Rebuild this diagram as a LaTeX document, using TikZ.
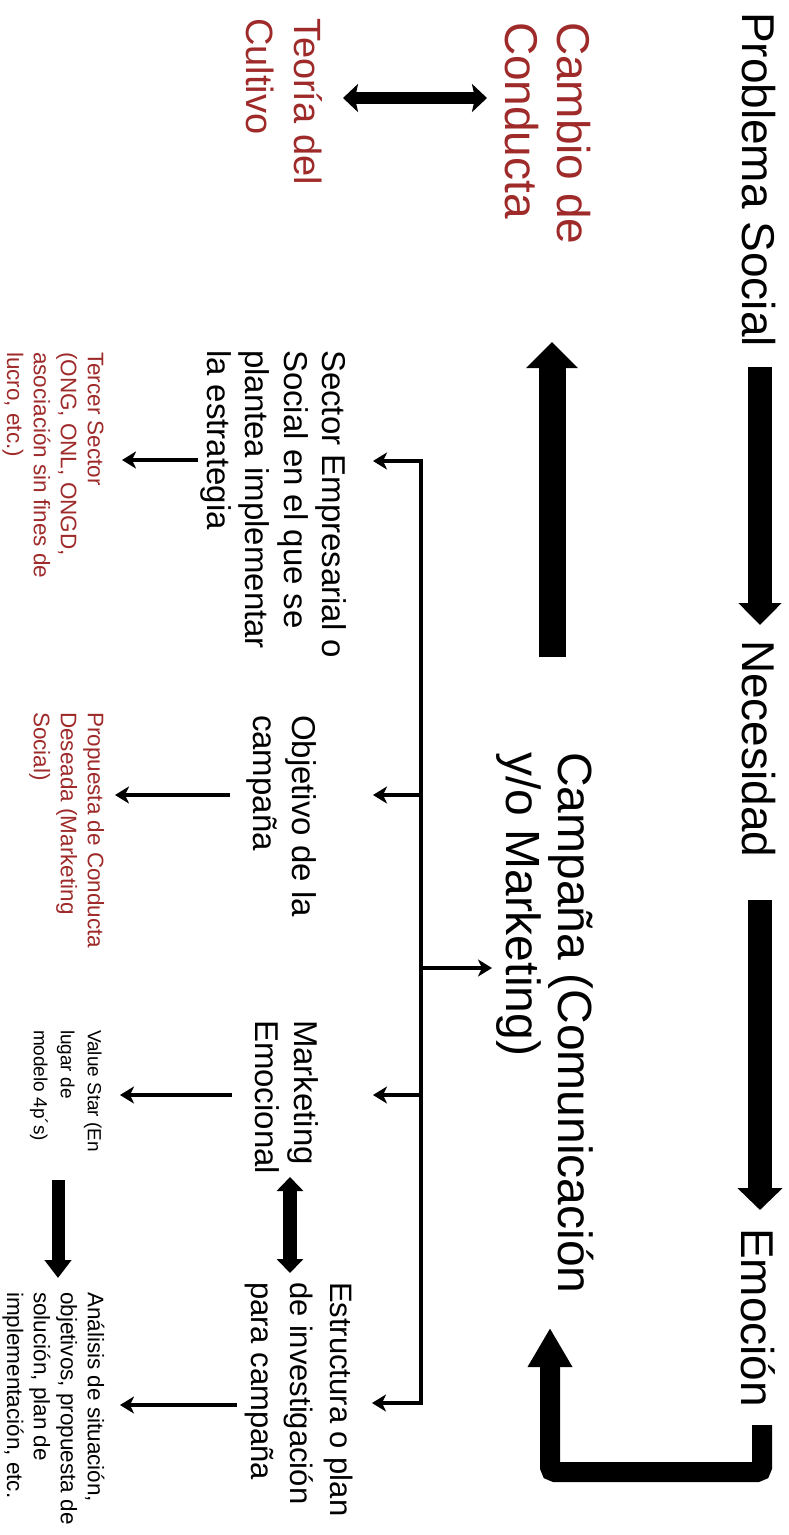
\documentclass[tikz,border=0pt]{standalone}
\usepackage{fontspec}
\setmainfont{Liberation Sans}
\usetikzlibrary{arrows.meta}
\definecolor{dred}{RGB}{158,42,42}
\tikzset{
  rot/.style={rotate=-90, anchor=base west, inner sep=0pt, outer sep=0pt, align=left},
  huge/.style={rot, font=\fontsize{46}{52}\selectfont},
  hugec/.style={rot, font=\fontsize{48}{52}\selectfont},
  mid/.style={rot, font=\fontsize{38}{48}\selectfont},
  med/.style={rot, font=\fontsize{33}{38.5}\selectfont},
  medw/.style={rot, font=\fontsize{33}{39}\selectfont},
  meds/.style={rot, font=\fontsize{31}{39.5}\selectfont},
  small/.style={rot, font=\fontsize{22.5}{27}\selectfont},
  vsmall/.style={rot, font=\fontsize{19}{27}\selectfont},
  tree/.style={line width=4pt},
  thinarr/.style={line width=3.5pt, -{Stealth[length=14pt,width=17pt,inset=4pt]}},
}
\begin{document}
\begin{tikzpicture}[x=1pt,y=-1pt]
\useasboundingbox (0,0) rectangle (788,1535);
% main texts (multi-line nodes: base = last line)
\node[huge] (ps) at (742,12) {Problema Social};
\node[huge] (nec) at (742,640) {Necesidad};
\node[huge] (emo) at (741,1228) {Emoción};
\node[huge, text=dred] (cambio) at (505,22) {Cambio de\\Conducta};
\node[mid, text=dred] (teoria) at (246,18) {Teoría del\\Cultivo};
\node[hugec] (camp) at (506,752) {Campaña (Comunicación\\y/o Marketing)};
% second level
\node[med] (sector) at (207,350) {Sector Empresarial o\\Social en el que se\\plantea implementar\\la estrategia};
\node[medw] (obj) at (253,715) {Objetivo de la\\campaña};
\node[medw] (mkt) at (255,1020) {Marketing\\Emocional};
\node[meds] (estr) at (251,1282) {Estructura o plan\\de investigación\\para campaña};
% third level
\node[small, text=dred] (tercer) at (7,352) {Tercer Sector\\(ONG, ONL, ONGD,\\asociación sin fines de\\lucro, etc.)};
\node[small, text=dred] (prop) at (34,712) {Propuesta de Conducta\\Deseada (Marketing\\Social)};
\node[vsmall] (value) at (34,1030) {Value Star (En\\lugar de\\modelo 4p´s)};
\node[small] (anal) at (7,1292) {Análisis de situación,\\objetivos, propuesta de\\solución, plan de\\implementación, etc.};
% coordinates
\coordinate (a1s) at (760,367); \coordinate (a1e) at (760,625);
\coordinate (a2s) at (760,900); \coordinate (a2e) at (760,1210);
\coordinate (a3s) at (552,657); \coordinate (a3e) at (552,342);
\coordinate (b1) at (762,1425); \coordinate (b2) at (762,1472);
\coordinate (b3) at (550,1472); \coordinate (b4) at (550,1328);
\coordinate (d1) at (343,98); \coordinate (d2) at (487,98);
\coordinate (e1) at (290,1177); \coordinate (e2) at (290,1273);
\coordinate (v1) at (58,1180); \coordinate (v2) at (58,1278);
\coordinate (tTop) at (421,461); \coordinate (tBot) at (421,1403);
\coordinate (tSec) at (373,461); \coordinate (tObj) at (373,795);
\coordinate (tMkt) at (373,1095); \coordinate (tEst) at (372,1403);
\coordinate (tJ) at (421,968); \coordinate (tCamp) at (492,968);
\coordinate (j2) at (421,795); \coordinate (j3) at (421,1095);
\coordinate (s1) at (198,460); \coordinate (s1e) at (122,460);
\coordinate (s2) at (230,795); \coordinate (s2e) at (115,795);
\coordinate (s3) at (232,1095); \coordinate (s3e) at (120,1095);
\coordinate (s4) at (237,1405); \coordinate (s4e) at (120,1405);
% thick arrows
\draw[line width=24pt, -{Triangle[length=22pt,width=42pt]}] (a1s) -- (a1e);
\draw[line width=24pt, -{Triangle[length=22pt,width=44pt]}] (a2s) -- (a2e);
\draw[line width=27pt, -{Triangle[length=26pt,width=50pt]}] (a3s) -- (a3e);
\draw[line width=20pt, rounded corners=5pt, -{Triangle[length=39pt,width=42pt]}] (b1) -- (b2) -- (b3) -- (b4);
\draw[line width=12pt, {Stealth[length=15pt,width=28pt,inset=3pt]}-{Stealth[length=15pt,width=28pt,inset=3pt]}] (d1) -- (d2);
\draw[line width=14pt, {Triangle[length=14pt,width=26pt]}-{Triangle[length=14pt,width=26pt]}] (e1) -- (e2);
\draw[line width=13pt, -{Triangle[length=18pt,width=26pt]}] (v1) -- (v2);
% tree
\draw[tree] (tTop) -- (tBot);
\draw[thinarr] ([xshift=2pt]tTop) -- (tSec);
\draw[thinarr] ([xshift=2pt]tBot) -- (tEst);
\draw[thinarr] (j2) -- (tObj);
\draw[thinarr] (j3) -- (tMkt);
\draw[thinarr] (tJ) -- (tCamp);
% small arrows
\draw[thinarr] (s1) -- (s1e);
\draw[thinarr] (s2) -- (s2e);
\draw[thinarr] (s3) -- (s3e);
\draw[thinarr] (s4) -- (s4e);
\end{tikzpicture}
\end{document}
